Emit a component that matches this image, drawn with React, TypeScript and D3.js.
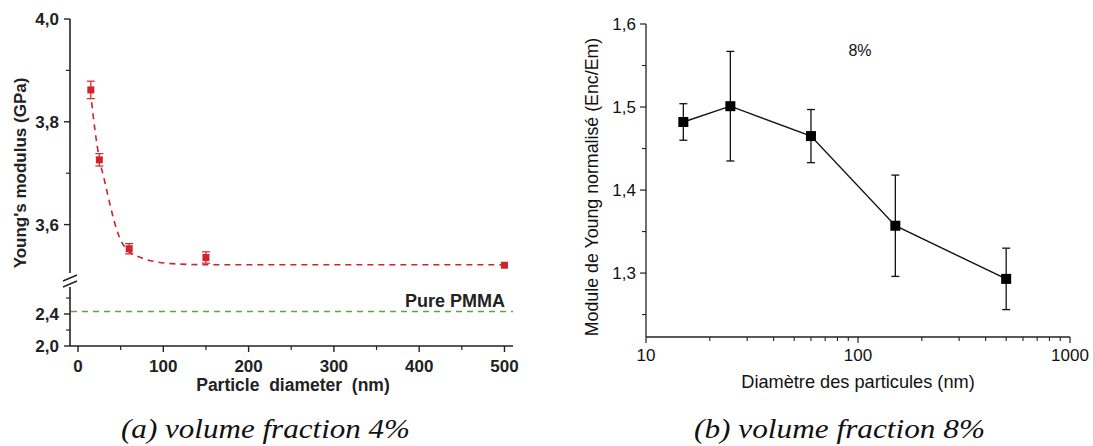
import React from "react";
import * as d3 from "d3";

// ---- Data: panel (a) volume fraction 4% ----
const diamA = [15, 25, 60, 150, 500];
const modulusA = [3.862, 3.726, 3.553, 3.536, 3.521];
const errA = [0.017, 0.012, 0.01, 0.011, 0.0];
const fitX = [16, 20, 25, 30, 35, 40, 45, 50, 60, 75, 90, 110, 150, 250, 500];
const fitY = [3.838, 3.782, 3.728, 3.693, 3.657, 3.622, 3.592, 3.57, 3.548, 3.535, 3.528, 3.524, 3.522, 3.522, 3.522];
const pureModulus = 2.43;
const xTicksA = [0, 100, 200, 300, 400, 500];
const xMinorA = [50, 150, 250, 350, 450];
const yTicksUpper = [3.6, 3.8, 4.0];
const yMinorUpper = [3.7, 3.9];
const yTicksLower = [2.0, 2.4];
const yMinorLower = [2.2, 2.6];

// ---- Data: panel (b) volume fraction 8% ----
const diamB = [15, 25, 60, 150, 500];
const ratioB = [1.482, 1.501, 1.465, 1.357, 1.293];
const errB = [0.022, 0.066, 0.032, 0.061, 0.037];
const xTicksB = [10, 100, 1000];
const xMinorB = [20, 30, 40, 50, 60, 70, 80, 90, 200, 300, 400, 500, 600, 700, 800, 900];
const yTicksB = [1.3, 1.4, 1.5, 1.6];
const yMinorB = [1.25, 1.35, 1.45, 1.55];

const captions = ["(a) volume fraction 4%", "(b) volume fraction 8%"];

const fmt = (v: number) => v.toFixed(1).replace(".", ",");

const RED = "#d3222a";
const GREEN = "#5aa545";
const AX = "#222";

export default function App() {
  const xA = d3.scaleLinear().domain([-9.4, 510]).range([70, 513]);
  const yU = d3.scaleLinear().domain([3.5, 4.0]).range([276, 19]);
  const yL = d3.scaleLinear().domain([2.0, 2.6]).range([346, 298]);
  const fitLine = d3
    .line<number>()
    .x((_, i) => xA(fitX[i]))
    .y((d) => yU(d))
    .curve(d3.curveMonotoneX);

  const xB = d3.scaleLog().domain([10, 1000]).range([646, 1070]);
  const yB = d3.scaleLinear().domain([1.223, 1.6]).range([337, 24]);
  const lineB = d3
    .line<number>()
    .x((_, i) => xB(diamB[i]))
    .y((d) => yB(d));

  const SANS = "Liberation Sans, Arial, sans-serif";
  const SERIF = "Liberation Serif, DejaVu Serif, serif";

  return (
    <svg width={1093} height={446} style={{ position: "absolute", left: 0, top: 0, background: "#fff" }}>
      <rect width={1093} height={446} fill="#fff" />
      {/* ================= Panel A ================= */}
      <g fontFamily={SANS} fontWeight="bold" fill={AX}>
        <line x1={70} x2={70} y1={yU(4.0)} y2={273} stroke={AX} strokeWidth={1.6} />
        <line x1={70} x2={70} y1={287} y2={346} stroke={AX} strokeWidth={1.6} />
        <line x1={63} x2={77} y1={281} y2={275} stroke={AX} strokeWidth={1.4} />
        <line x1={63} x2={77} y1={287} y2={281} stroke={AX} strokeWidth={1.4} />
        {yTicksUpper.map((t) => (
          <g key={"yu" + t}>
            <line x1={64} x2={70} y1={yU(t)} y2={yU(t)} stroke={AX} strokeWidth={1.4} />
            <text x={59} y={yU(t)} dy="0.36em" textAnchor="end" fontSize={17}>
              {fmt(t)}
            </text>
          </g>
        ))}
        {yMinorUpper.map((t) => (
          <line key={"yum" + t} x1={66} x2={70} y1={yU(t)} y2={yU(t)} stroke={AX} strokeWidth={1.2} />
        ))}
        {yTicksLower.map((t) => (
          <g key={"yl" + t}>
            <line x1={64} x2={70} y1={yL(t)} y2={yL(t)} stroke={AX} strokeWidth={1.4} />
            <text x={59} y={yL(t)} dy="0.36em" textAnchor="end" fontSize={17}>
              {fmt(t)}
            </text>
          </g>
        ))}
        {yMinorLower.map((t) => (
          <line key={"ylm" + t} x1={66} x2={70} y1={yL(t)} y2={yL(t)} stroke={AX} strokeWidth={1.2} />
        ))}
        <line x1={70} x2={513} y1={346} y2={346} stroke={AX} strokeWidth={1.6} />
        {xTicksA.map((t) => (
          <g key={"xa" + t}>
            <line x1={xA(t)} x2={xA(t)} y1={346} y2={352} stroke={AX} strokeWidth={1.4} />
            <text x={xA(t)} y={372} textAnchor="middle" fontSize={17}>
              {t}
            </text>
          </g>
        ))}
        {xMinorA.map((t) => (
          <line key={"xam" + t} x1={xA(t)} x2={xA(t)} y1={346} y2={350} stroke={AX} strokeWidth={1.2} />
        ))}
        <text x={293} y={391} textAnchor="middle" fontSize={17.5} style={{ whiteSpace: "pre" }}>
          {"Particle  diameter  (nm)"}
        </text>
        <text transform="translate(26,173) rotate(-90)" textAnchor="middle" fontSize={17}>
          Young's modulus (GPa)
        </text>
        <line
          x1={71}
          x2={513}
          y1={yL(pureModulus)}
          y2={yL(pureModulus)}
          stroke={GREEN}
          strokeWidth={1.5}
          strokeDasharray="6,5"
        />
        <text x={505} y={307} textAnchor="end" fontSize={18}>
          Pure PMMA
        </text>
        <path d={fitLine(fitY) || ""} fill="none" stroke={RED} strokeWidth={1.6} strokeDasharray="6,5" />
        {diamA.map((d, i) => {
          const cx = xA(d);
          const cy = yU(modulusA[i]);
          const top = yU(modulusA[i] + errA[i]);
          const bot = yU(modulusA[i] - errA[i]);
          return (
            <g key={"pa" + i}>
              {errA[i] > 0 && (
                <g stroke={RED} strokeWidth={1.2}>
                  <line x1={cx} x2={cx} y1={top} y2={bot} />
                  <line x1={cx - 4} x2={cx + 4} y1={top} y2={top} />
                  <line x1={cx - 4} x2={cx + 4} y1={bot} y2={bot} />
                </g>
              )}
              <rect x={cx - 3.5} y={cy - 3.5} width={7} height={7} fill={RED} />
            </g>
          );
        })}
      </g>

      {/* ================= Panel B ================= */}
      <g fontFamily={SANS} fill="#111">
        <line x1={646} x2={646} y1={yB(1.6)} y2={337} stroke={AX} strokeWidth={1.3} />
        <line x1={646} x2={1070} y1={337} y2={337} stroke={AX} strokeWidth={1.3} />
        {yTicksB.map((t) => (
          <g key={"yb" + t}>
            <line x1={640} x2={646} y1={yB(t)} y2={yB(t)} stroke={AX} strokeWidth={1.2} />
            <text x={636} y={yB(t)} dy="0.36em" textAnchor="end" fontSize={17}>
              {fmt(t)}
            </text>
          </g>
        ))}
        {yMinorB.map((t) => (
          <line key={"ybm" + t} x1={642} x2={646} y1={yB(t)} y2={yB(t)} stroke={AX} strokeWidth={1.1} />
        ))}
        {xTicksB.map((t) => (
          <g key={"xb" + t}>
            <line x1={xB(t)} x2={xB(t)} y1={337} y2={343} stroke={AX} strokeWidth={1.2} />
            <text x={xB(t)} y={361} textAnchor="middle" fontSize={17}>
              {t}
            </text>
          </g>
        ))}
        {xMinorB.map((t) => (
          <line key={"xbm" + t} x1={xB(t)} x2={xB(t)} y1={337} y2={341} stroke={AX} strokeWidth={1.1} />
        ))}
        <text x={858} y={388} textAnchor="middle" fontSize={18.2}>
          Diamètre des particules (nm)
        </text>
        <text transform="translate(598,187) rotate(-90)" textAnchor="middle" fontSize={17.8}>
          Module de Young normalisé (Enc/Em)
        </text>
        <text x={860} y={56} textAnchor="middle" fontSize={16}>
          8%
        </text>
        <path d={lineB(ratioB) || ""} fill="none" stroke="#111" strokeWidth={1.4} />
        {diamB.map((d, i) => {
          const cx = xB(d);
          const cy = yB(ratioB[i]);
          const top = yB(ratioB[i] + errB[i]);
          const bot = yB(ratioB[i] - errB[i]);
          return (
            <g key={"pb" + i}>
              <g stroke="#111" strokeWidth={1.3}>
                <line x1={cx} x2={cx} y1={top} y2={bot} />
                <line x1={cx - 4} x2={cx + 4} y1={top} y2={top} />
                <line x1={cx - 4} x2={cx + 4} y1={bot} y2={bot} />
              </g>
              <rect x={cx - 5} y={cy - 5} width={10} height={10} fill="#000" />
            </g>
          );
        })}
      </g>

      {/* captions */}
      <text x={121} y={438} fontFamily={SERIF} fontStyle="italic" fontSize={27} fill="#111" textLength={289} lengthAdjust="spacingAndGlyphs">
        {captions[0]}
      </text>
      <text x={694} y={438} fontFamily={SERIF} fontStyle="italic" fontSize={27} fill="#111" textLength={291} lengthAdjust="spacingAndGlyphs">
        {captions[1]}
      </text>
    </svg>
  );
}
